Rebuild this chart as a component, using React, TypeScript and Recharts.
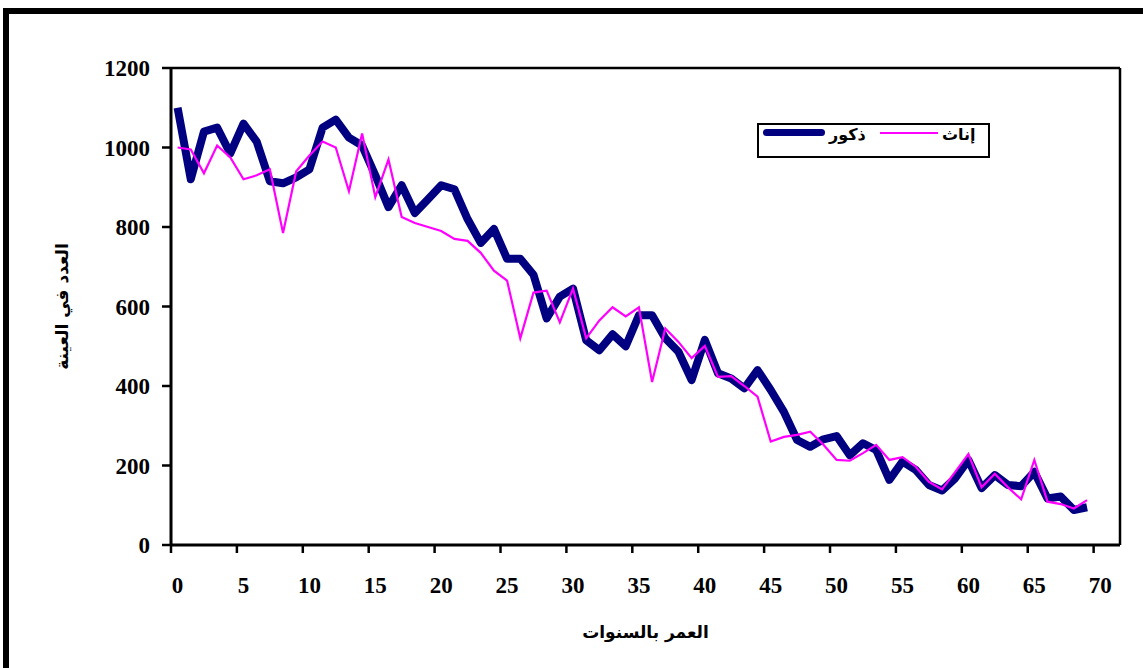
import { Legend, Line, LineChart, ReferenceLine, XAxis, YAxis } from "recharts";

// age in years (one category per year, the last two left empty)
const ages = [
  0, 1, 2, 3, 4, 5, 6, 7, 8, 9, 10, 11, 12, 13, 14, 15, 16, 17, 18, 19, 20, 21, 22, 23, 24, 25, 26, 27, 28, 29, 30, 31, 32, 33, 34,
  35, 36, 37, 38, 39, 40, 41, 42, 43, 44, 45, 46, 47, 48, 49, 50, 51, 52, 53, 54, 55, 56, 57, 58, 59, 60, 61, 62, 63, 64, 65, 66, 67,
  68, 69,
];

// ذكور
const males = [
  1100, 920, 1040, 1050, 985, 1060, 1015, 915, 910, 925, 945, 1050, 1070, 1025, 1005, 930, 850, 905, 835, 870, 905, 895, 820, 760,
  795, 720, 720, 680, 570, 625, 645, 515, 490, 530, 500, 578, 578, 520, 486, 415, 516, 432, 419, 394, 440, 390, 335, 264, 247, 266,
  274, 226, 256, 239, 164, 210, 189, 151, 137, 168, 214, 143, 176, 151, 148, 184, 117, 122, 88, 95,
];

// إناث
const females = [
  1000, 995, 935, 1005, 975, 920, 930, 945, 785, 940, 980, 1015, 1000, 890, 1035, 875, 970, 825, 810, 800, 790, 770, 765, 735, 690,
  665, 520, 635, 640, 560, 645, 520, 565, 598, 575, 598, 410, 545, 511, 470, 501, 423, 425, 400, 373, 260, 272, 277, 285, 252, 214,
  212, 231, 252, 214, 221, 197, 159, 140, 184, 229, 145, 179, 145, 115, 214, 109, 103, 92, 113,
];

const xTicks = [0, 5, 10, 15, 20, 25, 30, 35, 40, 45, 50, 55, 60, 65, 70];
const yTicks = [0, 200, 400, 600, 800, 1000, 1200];

const data = ages.map((age, i) => ({ age, males: males[i], females: females[i] }));

const NAVY = "#000080";
const MAGENTA = "#FF00FF";
const numFont = "'Liberation Serif', 'Times New Roman', serif";
const arFont = "'DejaVu Sans', sans-serif";
const HALF_CAT = 6.6; // excel draws tick marks between categories

function AgeTick({ x, y, payload }: any) {
  return (
    <g>
      <line x1={x - HALF_CAT} x2={x - HALF_CAT} y1={y - 12} y2={y - 4} stroke="#000" strokeWidth={2.5} />
      <text x={x} y={y + 36} textAnchor="middle" fontFamily={numFont} fontWeight="bold" fontSize={23} fill="#000">
        {payload.value}
      </text>
    </g>
  );
}

function SexLegend() {
  const label = { position: "absolute" as const, top: 0, fontFamily: arFont, fontWeight: "bold", fontSize: 16, lineHeight: "20px" };
  return (
    <div style={{ position: "relative", width: 233, height: 35, border: "2px solid #000", boxSizing: "border-box", background: "#fff" }}>
      <div style={{ position: "absolute", left: 4, top: 4, width: 62, height: 7, borderRadius: 4, background: NAVY }} />
      <span style={{ ...label, left: 70 }}>ذكور</span>
      <div style={{ position: "absolute", left: 121, top: 7, width: 58, height: 2, background: MAGENTA }} />
      <span style={{ ...label, left: 183 }}>إناث</span>
    </div>
  );
}

export default function App() {
  return (
    <div style={{ position: "absolute", left: 0, top: 0, width: 1143, height: 668, overflow: "hidden", background: "#fff" }}>
      <div
        style={{
          position: "absolute",
          left: 3,
          top: 8,
          width: 1200,
          height: 720,
          border: "6px solid #000",
          boxSizing: "border-box",
        }}
      />
      <div style={{ position: "absolute", left: 0, top: 0 }}>
        <LineChart width={1143} height={668} data={data} margin={{ top: 68, right: 23, bottom: 83, left: 111 }}>
          <XAxis
            type="number"
            dataKey="age"
            domain={[-0.5, 71.5]}
            ticks={xTicks}
            interval={0}
            height={40}
            tickSize={8}
            tickMargin={4}
            tickLine={false}
            axisLine={{ stroke: "#000", strokeWidth: 3 }}
            tick={<AgeTick />}
            label={{
              content: ({ viewBox }: any) => (
                <text
                  x={viewBox.x + viewBox.width / 2}
                  y={viewBox.y + 93}
                  textAnchor="middle"
                  fontFamily={arFont}
                  fontWeight="bold"
                  fontSize={17}
                  fill="#000"
                >
                  العمر بالسنوات
                </text>
              ),
            }}
          />
          <YAxis
            type="number"
            domain={[0, 1200]}
            ticks={yTicks}
            interval={0}
            width={60}
            tickSize={9}
            tickMargin={12}
            tickLine={{ stroke: "#000", strokeWidth: 2.5 }}
            axisLine={{ stroke: "#000", strokeWidth: 3 }}
            tick={{ fill: "#000", fontFamily: numFont, fontWeight: "bold", fontSize: 23 }}
            label={{
              content: ({ viewBox }: any) => {
                const cx = 62;
                const cy = viewBox.y + viewBox.height / 2;
                return (
                  <text
                    x={cx}
                    y={cy}
                    transform={`rotate(-90, ${cx}, ${cy})`}
                    textAnchor="middle"
                    dominantBaseline="central"
                    fontFamily={arFont}
                    fontWeight="bold"
                    fontSize={17}
                    fill="#000"
                  >
                    العدد في العينة
                  </text>
                );
              },
            }}
          />
          <ReferenceLine y={1200} stroke="#000" strokeWidth={2.5} />
          <ReferenceLine x={71.5} stroke="#000" strokeWidth={2.5} />
          <Legend
            layout="horizontal"
            verticalAlign="middle"
            align="center"
            content={<SexLegend />}
            wrapperStyle={{ left: 757, top: 123, width: 233, height: 35 }}
          />
          <Line
            type="linear"
            dataKey="males"
            stroke={NAVY}
            strokeWidth={8}
            strokeLinejoin="round"
            dot={false}
            activeDot={false}
            isAnimationActive={false}
          />
          <Line
            type="linear"
            dataKey="females"
            stroke={MAGENTA}
            strokeWidth={2.2}
            dot={false}
            activeDot={false}
            isAnimationActive={false}
          />
        </LineChart>
      </div>
    </div>
  );
}
